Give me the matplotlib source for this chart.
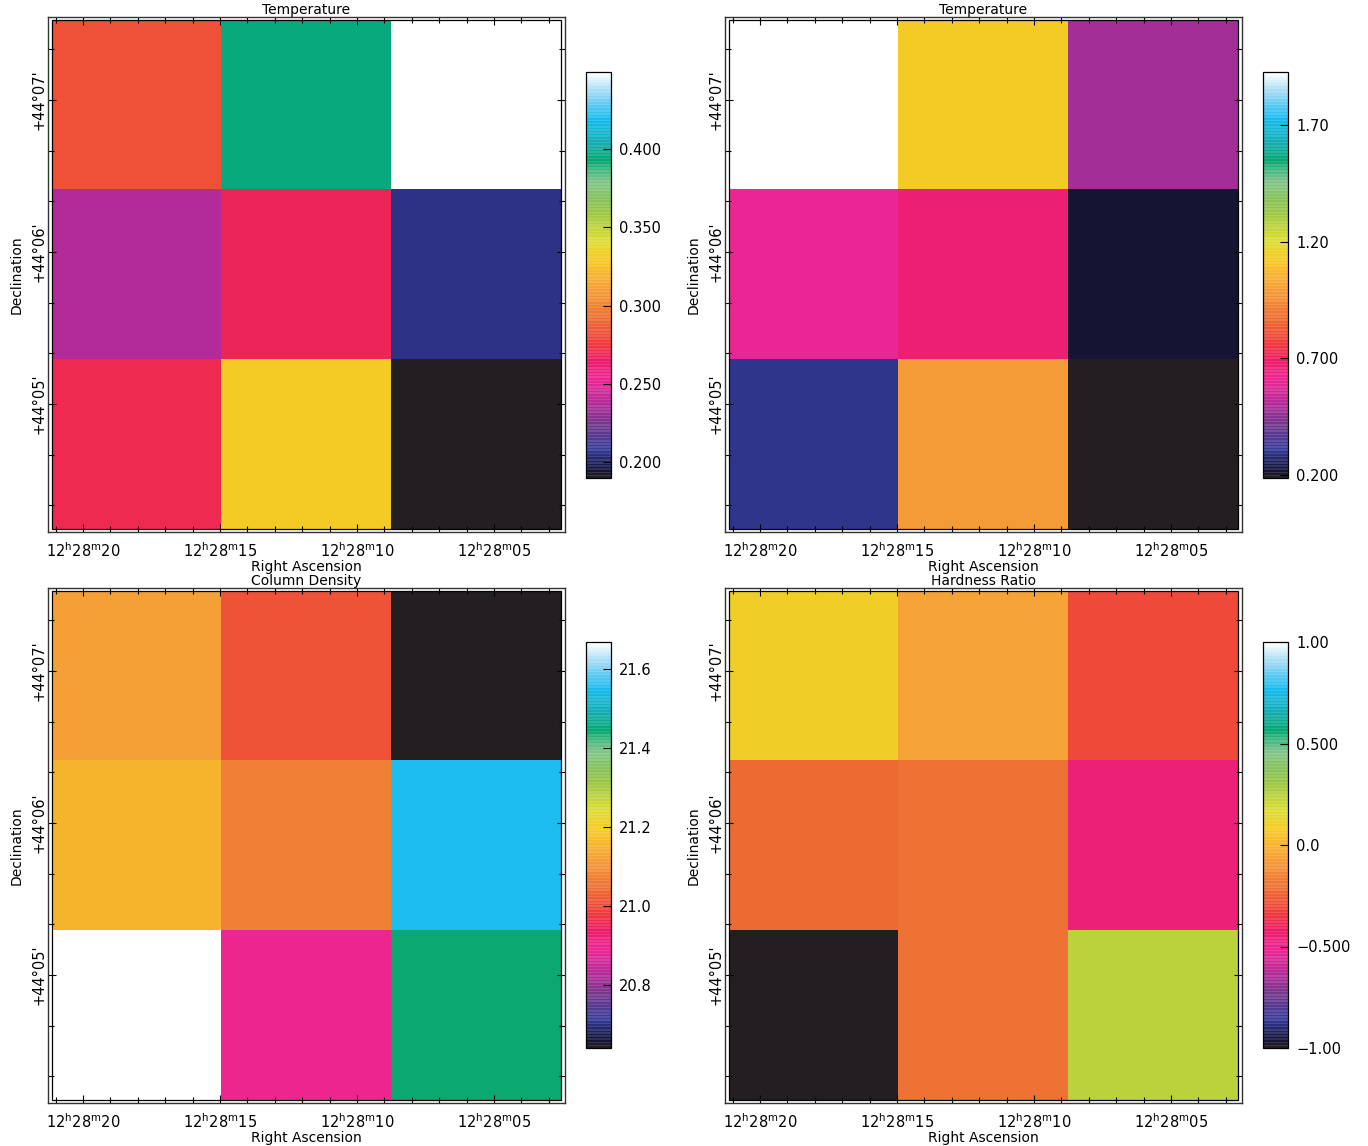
import numpy as np
import matplotlib
matplotlib.use("Agg")
import matplotlib.pyplot as plt
from matplotlib.colors import LinearSegmentedColormap, ListedColormap, Normalize
from matplotlib.patches import Rectangle
from matplotlib.cm import ScalarMappable
from matplotlib.ticker import FixedLocator, MultipleLocator

plt.rcParams['font.family'] = ['DejaVu Sans']
plt.rcParams['mathtext.fontset'] = 'dejavusans'

# ---- map values (3x3 grid, rows top to bottom, columns east to west) ----
temperature_a = [[0.283, 0.395, 0.449],
                 [0.237, 0.268, 0.206],
                 [0.270, 0.330, 0.190]]
temperature_b = [[1.927, 1.127, 0.483],
                 [0.605, 0.665, 0.215],
                 [0.300, 0.987, 0.187]]
column_density = [[21.12, 21.01, 20.64],
                  [21.155, 21.07, 21.555],
                  [21.668, 20.897, 21.44]]
hardness_ratio = [[0.10, -0.06, -0.30],
                  [-0.22, -0.20, -0.46],
                  [-1.00, -0.20, 0.24]]

titles = ["Temperature", "Temperature", "Column Density", "Hardness Ratio"]
value_ranges = [(0.190, 0.449), (0.187, 1.927), (20.64, 21.668), (-1.0, 1.0)]
cbar_ticks = [[0.20, 0.25, 0.30, 0.35, 0.40],
              [0.20, 0.70, 1.20, 1.70],
              [20.8, 21.0, 21.2, 21.4, 21.6],
              [-1.0, -0.5, 0.0, 0.5, 1.0]]
cbar_labels = [["0.200", "0.250", "0.300", "0.350", "0.400"],
               ["0.200", "0.700", "1.20", "1.70"],
               ["20.8", "21.0", "21.2", "21.4", "21.6"],
               ["\u22121.00", "\u22120.500", "0.0", "0.500", "1.00"]]

# sky coordinates: RA seconds past 12h28m, Dec arcmin past +44deg
ra_ticks = [20, 15, 10, 5]
ra_labels = [r"12$^{\rm h}$28$^{\rm m}$20", r"12$^{\rm h}$28$^{\rm m}$15",
             r"12$^{\rm h}$28$^{\rm m}$10", r"12$^{\rm h}$28$^{\rm m}$05"]
dec_ticks = [5, 6, 7]
dec_labels = ["+44\u00b005'", "+44\u00b006'", "+44\u00b007'"]
ra_extent = (21.13, 2.56)
dec_extent = (4.178, 7.526)
ra_view = (21.28, 2.41)
dec_view = (4.158, 7.546)

# colour table: black - blue - purple - magenta - red - orange - yellow - green - cyan - white
anchors = [
    (0.000, (0.14, 0.12, 0.13)),
    (0.020, (0.07, 0.07, 0.22)),
    (0.069, (0.21, 0.23, 0.60)),
    (0.130, (0.45, 0.22, 0.55)),
    (0.180, (0.70, 0.17, 0.60)),
    (0.241, (0.93, 0.15, 0.58)),
    (0.291, (0.93, 0.11, 0.40)),
    (0.328, (0.94, 0.22, 0.24)),
    (0.389, (0.93, 0.42, 0.20)),
    (0.463, (0.96, 0.62, 0.22)),
    (0.537, (0.97, 0.79, 0.14)),
    (0.586, (0.86, 0.87, 0.20)),
    (0.672, (0.55, 0.76, 0.30)),
    (0.734, (0.50, 0.77, 0.55)),
    (0.783, (0.02, 0.66, 0.44)),
    (0.833, (0.08, 0.68, 0.72)),
    (0.887, (0.09, 0.74, 0.94)),
    (0.943, (0.55, 0.83, 0.95)),
    (1.000, (1.00, 1.00, 1.00)),
]
cmap = LinearSegmentedColormap.from_list("temp_table", anchors, N=256)

# finely banded version for the colour bars
band_rgba = cmap(np.linspace(0, 1, 256))
band_rgba[1::2, :3] = band_rgba[1::2, :3] * 0.88 + 0.12
band_cmap = ListedColormap(band_rgba)

fig = plt.figure(figsize=(13.68, 11.46), dpi=100)
W, H = 1368.0, 1146.0

panels = [
    (temperature_a, 48, 17, 586, 72),
    (temperature_b, 725, 17, 1263, 72),
    (column_density, 48, 588, 586, 642),
    (hardness_ratio, 725, 588, 1263, 642),
]

for i, (vals, x0, y0, cx, cy) in enumerate(panels):
    ax = fig.add_axes([x0 / W, 1 - (y0 + 515) / H, 517 / W, 515 / H])
    vmin, vmax = value_ranges[i]
    norm = Normalize(vmin=vmin, vmax=vmax)
    ax.imshow(np.array(vals), cmap=cmap, norm=norm, origin="upper",
              extent=[ra_extent[0], ra_extent[1], dec_extent[0], dec_extent[1]],
              aspect="auto", interpolation="nearest")
    ax.add_patch(Rectangle((ra_extent[1], dec_extent[0]),
                           ra_extent[0] - ra_extent[1], dec_extent[1] - dec_extent[0],
                           fill=False, edgecolor="black", lw=0.9, zorder=3))
    ax.set_xlim(*ra_view)
    ax.set_ylim(*dec_view)

    ax.xaxis.set_major_locator(FixedLocator(ra_ticks))
    ax.xaxis.set_minor_locator(MultipleLocator(1))
    ax.set_xticklabels(ra_labels)
    ax.yaxis.set_major_locator(FixedLocator(dec_ticks))
    ax.yaxis.set_minor_locator(MultipleLocator(1 / 3))
    ax.set_yticklabels(dec_labels)
    ax.tick_params(which="both", direction="in", top=True, right=True,
                   color="black", width=0.8)
    ax.tick_params(which="major", length=6)
    ax.tick_params(which="minor", length=4)
    ax.tick_params(axis="x", labelsize=10.5, pad=7)
    ax.tick_params(axis="y", labelsize=10.5, pad=1)
    plt.setp(ax.get_yticklabels(), rotation=90, va="center")
    for s in ax.spines.values():
        s.set_linewidth(1.0)
        s.set_color("#333333")

    ax.set_title(titles[i], fontsize=10, pad=1.5)
    ax.set_xlabel("Right Ascension", fontsize=10, labelpad=0)
    ax.set_ylabel("Declination", fontsize=10, labelpad=6)

    cax = fig.add_axes([cx / W, 1 - (cy + 406) / H, 25 / W, 406 / H])
    sm = ScalarMappable(norm=norm, cmap=band_cmap)
    cb = fig.colorbar(sm, cax=cax)
    cb.set_ticks(cbar_ticks[i])
    cb.set_ticklabels(cbar_labels[i])
    cb.ax.tick_params(direction="in", length=6, width=0.8, labelsize=10.5, pad=6)
    cb.outline.set_linewidth(0.9)

fig.savefig("out.png", dpi=100)
